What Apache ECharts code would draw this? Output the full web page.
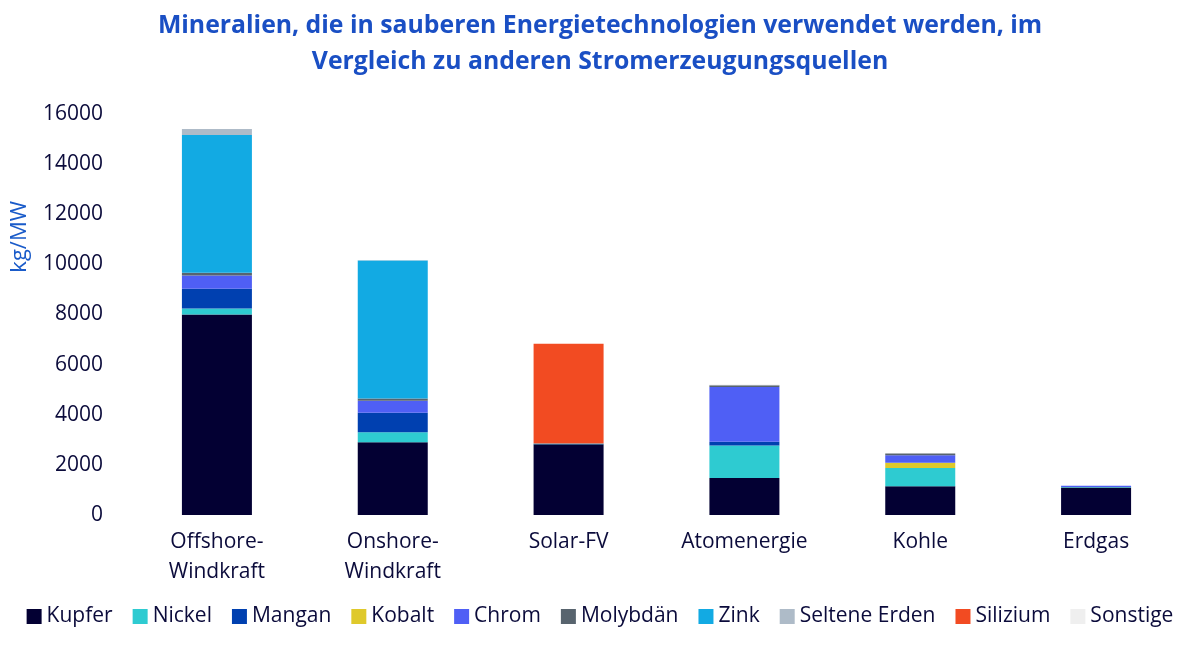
<!DOCTYPE html>
<html>
<head>
<meta charset="utf-8">
<script src="https://cdn.jsdelivr.net/npm/echarts@6/dist/echarts.min.js"></script>
<style>
  html, body { margin: 0; padding: 0; background: #fff; }
  #chart { width: 1200px; height: 654px; }
</style>
</head>
<body>
<div id="chart"></div>
<script>
// Kategorien (Erzeugungsquellen)
const categories = ["Offshore-\nWindkraft", "Onshore-\nWindkraft", "Solar-FV", "Atomenergie", "Kohle", "Erdgas"];

// Werte in kg/MW je Mineral
const kupfer = [8000, 2900, 2822, 1473, 1150, 1100];
const nickel = [240, 404, 0, 1297, 721, 16];
const mangan = [790, 780, 0, 148, 0, 0];
const kobalt = [0, 0, 0, 0, 210, 0];
const chrom = [525, 470, 0, 2190, 308, 48];
const molybdaen = [109, 99, 0, 70, 66, 0];
const zink = [5500, 5500, 30, 0, 0, 0];
const selteneErden = [239, 14, 0, 0, 0, 0];
const silizium = [0, 0, 3978, 0, 0, 0];
const sonstige = [0, 0, 0, 30, 0, 0];

const yTicks = [0, 2000, 4000, 6000, 8000, 10000, 12000, 14000, 16000];

const seriesDefs = [
  ["Kupfer", kupfer, "#030033"],
  ["Nickel", nickel, "#2ecbd1"],
  ["Mangan", mangan, "#0040b0"],
  ["Kobalt", kobalt, "#dfc92b"],
  ["Chrom", chrom, "#4f5ff5"],
  ["Molybdän", molybdaen, "#58646e"],
  ["Zink", zink, "#12aae3"],
  ["Seltene Erden", selteneErden, "#aebbc8"],
  ["Silizium", silizium, "#f24b22"],
  ["Sonstige", sonstige, "#efefef"]
];

const FONT = "'Open Sans', sans-serif";
const TXT = "#0b0b3b";

const chart = echarts.init(document.getElementById("chart"));

chart.setOption({
  backgroundColor: "#fff",
  animation: false,
  textStyle: { fontFamily: FONT },
  title: {
    text: "Mineralien, die in sauberen Energietechnologien verwendet werden, im\nVergleich zu anderen Stromerzeugungsquellen",
    left: "center",
    top: 3,
    textStyle: { color: "#1a4fc4", fontSize: 24.8, fontWeight: "bold", lineHeight: 36, fontFamily: FONT }
  },
  legend: {
    bottom: 22,
    left: "center",
    itemWidth: 15,
    itemHeight: 15,
    itemGap: 20,
    icon: "rect",
    textStyle: { color: TXT, fontSize: 21, fontFamily: FONT },
    data: seriesDefs.map(d => d[0])
  },
  graphic: [{
    type: "text",
    left: 9,
    top: 201,
    rotation: Math.PI / 2,
    style: { text: "kg/MW", fill: "#1a5bc9", fontSize: 22, fontFamily: FONT }
  }],
  grid: { left: 129, right: 16, top: 114, bottom: 139 },
  xAxis: {
    type: "category",
    data: categories,
    axisTick: { show: false },
    axisLine: { show: false },
    axisLabel: { color: TXT, fontSize: 21, lineHeight: 30, margin: 12, fontFamily: FONT }
  },
  yAxis: {
    type: "value",
    min: yTicks[0],
    max: yTicks[yTicks.length - 1],
    interval: 2000,
    splitLine: { show: false },
    axisLine: { show: false },
    axisTick: { show: false },
    axisLabel: { color: TXT, fontSize: 21, margin: 26, fontFamily: FONT, formatter: v => String(v) }
  },
  series: seriesDefs.map(([name, data, color]) => ({
    name: name,
    type: "bar",
    stack: "total",
    barWidth: 70,
    data: data,
    itemStyle: { color: color },
    emphasis: { disabled: true }
  }))
});
</script>
</body>
</html>
